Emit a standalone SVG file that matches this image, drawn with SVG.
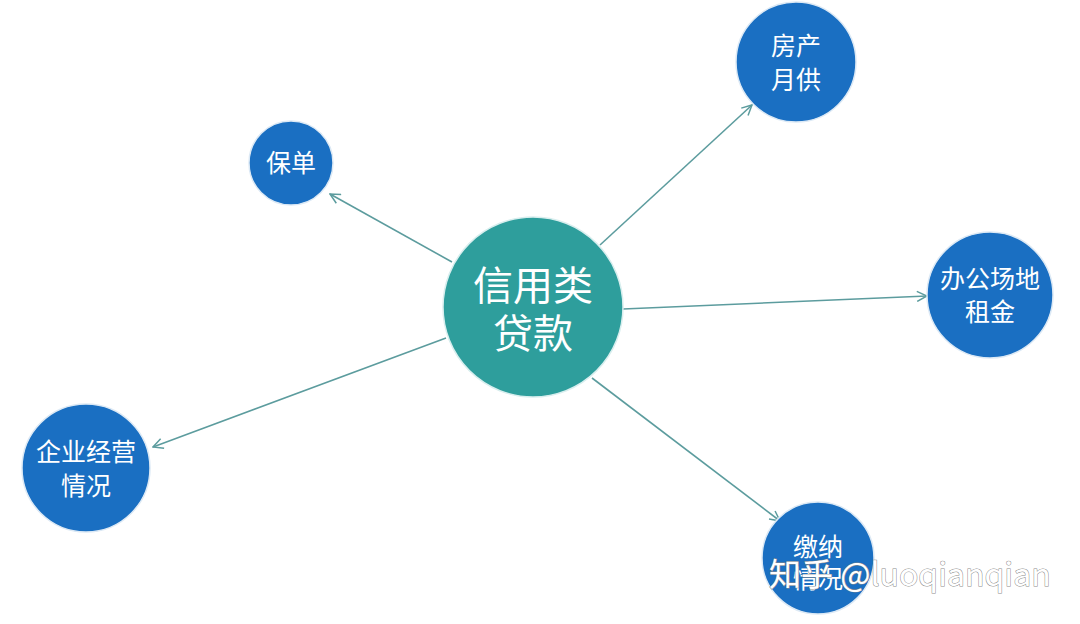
<svg xmlns="http://www.w3.org/2000/svg" width="1080" height="624" viewBox="0 0 1080 624">
<defs>
<style>
.n{fill:#1a6fc2;stroke:#dce9f5;stroke-width:1.5}
.c{fill:#2e9e9c;stroke:#d8eeee;stroke-width:1.5}
.t{font-family:"Noto Sans CJK SC","Noto Sans",sans-serif;fill:#fff;text-anchor:middle;font-size:25px}
.ct{font-size:40px}
.e{stroke:#5c9c9e;stroke-width:1.6;fill:none;marker-end:url(#a)}
.w{font-family:"Noto Sans CJK SC","Liberation Sans",sans-serif;font-size:32px;fill:#fff;stroke:#8a8a8a;stroke-width:1;paint-order:stroke}
</style>
<marker id="a" viewBox="0 0 12 12" refX="11" refY="6" markerWidth="12" markerHeight="12" markerUnits="userSpaceOnUse" orient="auto">
<path d="M1,1 L11,6 L1,11" fill="none" stroke="#5c9c9e" stroke-width="1.5"/>
</marker>
</defs>
<rect width="1080" height="624" fill="#fff"/>
<g id="connectors">
<line class="e" x1="452" y1="262" x2="330" y2="194"/>
<line class="e" x1="600" y1="245" x2="752" y2="105"/>
<line class="e" x1="623" y1="309" x2="927" y2="296"/>
<line class="e" x1="446" y1="338" x2="153" y2="447"/>
<line class="e" x1="592" y1="378" x2="780" y2="521"/>
</g>
<g id="center">
<circle class="c" cx="533" cy="307" r="90"/>
<text class="t ct" x="533" y="300">信用类</text>
<text class="t ct" x="533" y="348">贷款</text>
</g>
<g id="baodan">
<circle class="n" cx="291" cy="163" r="42"/>
<text class="t" x="291" y="172">保单</text>
</g>
<g id="fangchan">
<circle class="n" cx="796" cy="62" r="60"/>
<text class="t" x="796" y="55">房产</text>
<text class="t" x="796" y="89">月供</text>
</g>
<g id="bangong">
<circle class="n" cx="990" cy="295" r="63"/>
<text class="t" x="990" y="288">办公场地</text>
<text class="t" x="990" y="321">租金</text>
</g>
<g id="qiye">
<circle class="n" cx="86" cy="468" r="64"/>
<text class="t" x="86" y="461">企业经营</text>
<text class="t" x="86" y="495">情况</text>
</g>
<g id="jiaona">
<circle class="n" cx="818" cy="558" r="56"/>
<text class="t" x="818" y="556">缴纳</text>
<text class="t" x="818" y="588">情况</text>
</g>
<text class="w" x="769" y="586">知乎 @luoqianqian</text>
</svg>
